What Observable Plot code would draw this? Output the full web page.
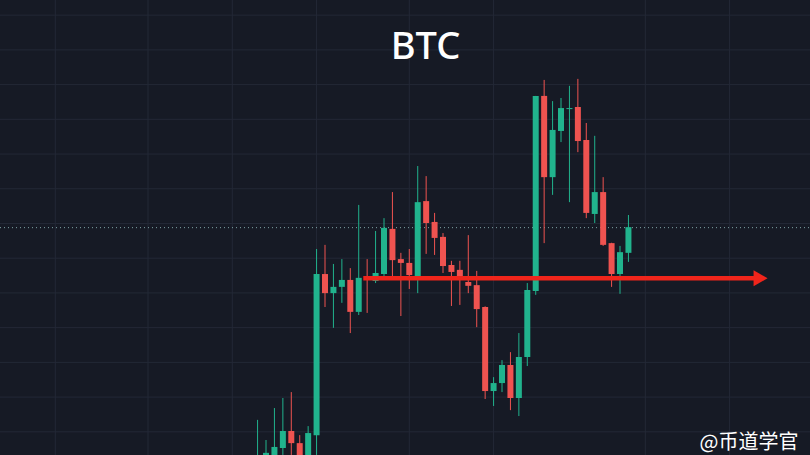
<!DOCTYPE html>
<html>
<head>
<meta charset="utf-8">
<script src="https://cdn.jsdelivr.net/npm/d3@7"></script>
<script src="https://cdn.jsdelivr.net/npm/@observablehq/plot@0.6"></script>
<style>
  html, body { margin: 0; padding: 0; background: #161a25; }
  #chart { width: 810px; height: 455px; overflow: hidden; }
</style>
</head>
<body>
<div id="chart"></div>
<script>
// Candle data (price; axis not shown)
const opens  = [60515,60560,60615,60760,61005,60830,60620,60945,63265,62990,63080,63180,62720,63220,63165,63265,63915,63480,63425,63235,64315,64015,63800,63395,63325,63150,63105,62790,61580,61695,61955,61480,62070,63020,65830,64660,65325,65640,65670,65195,64130,64445,63710,63265,63570];
const highs  = [61165,60875,61335,61480,61565,60945,61075,63625,63685,63410,63480,63350,64260,63480,63885,64070,64445,63570,63625,64820,64675,64145,63855,63455,63455,63825,63310,62800,61780,62025,62140,62415,63135,65830,66060,65755,65800,65975,66075,65440,65255,64660,63715,63670,64115];
const lows   = [60445,60515,60560,60660,60660,60560,60560,60660,62790,62490,62850,62415,62675,62705,63135,63220,63220,62660,63050,62990,63555,63540,63280,62805,62820,62990,62500,61465,61365,61565,61305,61220,61940,62965,63710,64405,65165,64300,65020,64070,64000,63670,63080,62980,63440];
const closes = [60615,60690,60775,61005,60830,60620,60975,63265,62990,63080,63180,62720,63210,63195,63280,63930,63465,63425,63250,64300,64000,63785,63380,63295,63195,63095,62760,61580,61695,61955,61480,62070,63035,65830,64660,65340,65655,65655,65180,64145,64445,63685,63265,63580,63940];

// Grid ticks
const priceTicks = d3.range(60500, 67001, 500);
const timeTicks = [-24, -13, -3, 7, 18, 28, 46, 56];

// Annotation: horizontal red arrow (support level)
const arrowStart = 12.6, arrowEnd = 59.2, arrowTip = 59.95, arrowPrice = 63212;
const title = "BTC";
const watermark = "@币道学官";

const GREEN = "#21b38d", RED = "#ef5350", ARROW = "#f0251b";
const candles = opens.map((o, i) => ({i, o, h: highs[i], l: lows[i], c: closes[i], col: closes[i] >= o ? GREEN : RED}));
const lastClose = closes[closes.length - 1];

const chart = Plot.plot({
  width: 810, height: 455, margin: 0,
  x: {domain: [-30.5, 65.6], axis: null},
  y: {domain: [60659, 67211], axis: null},
  color: {type: "identity"},
  style: {background: "#161a25"},
  marks: [
    Plot.gridY(priceTicks, {stroke: "#232836", strokeOpacity: 1}),
    Plot.gridX(timeTicks, {stroke: "#232836", strokeOpacity: 1}),
    Plot.ruleY([lastClose], {stroke: "#7ea3a6", strokeDasharray: "1,3", strokeWidth: 1}),
    Plot.ruleX(candles, {x: "i", y1: "l", y2: "h", stroke: "col", strokeWidth: 1}),
    Plot.ruleX(candles, {x: "i", y1: "o", y2: "c", stroke: "col", strokeWidth: 6}),
    Plot.ruleY([arrowPrice], {x1: arrowStart, x2: arrowEnd, stroke: ARROW, strokeWidth: 4.5}),
    Plot.dot([arrowPrice], {x: arrowTip - 0.55, y: d => d, symbol: "triangle", rotate: 90, r: 6,
      fill: ARROW, stroke: "none"}),
    Plot.text([title], {frameAnchor: "top", dx: 20, dy: 46, fontSize: 38, fill: "#ffffff",
      fontFamily: "Noto Sans, sans-serif", fontWeight: 500, lineAnchor: "middle"}),
    Plot.text([watermark], {frameAnchor: "bottom-right", dx: -12, dy: -7, fontSize: 20, fill: "#ffffff",
      fontFamily: "Noto Sans CJK SC, sans-serif", textAnchor: "end", lineAnchor: "bottom"})
  ]
});
document.getElementById("chart").appendChild(chart);
</script>
</body>
</html>
